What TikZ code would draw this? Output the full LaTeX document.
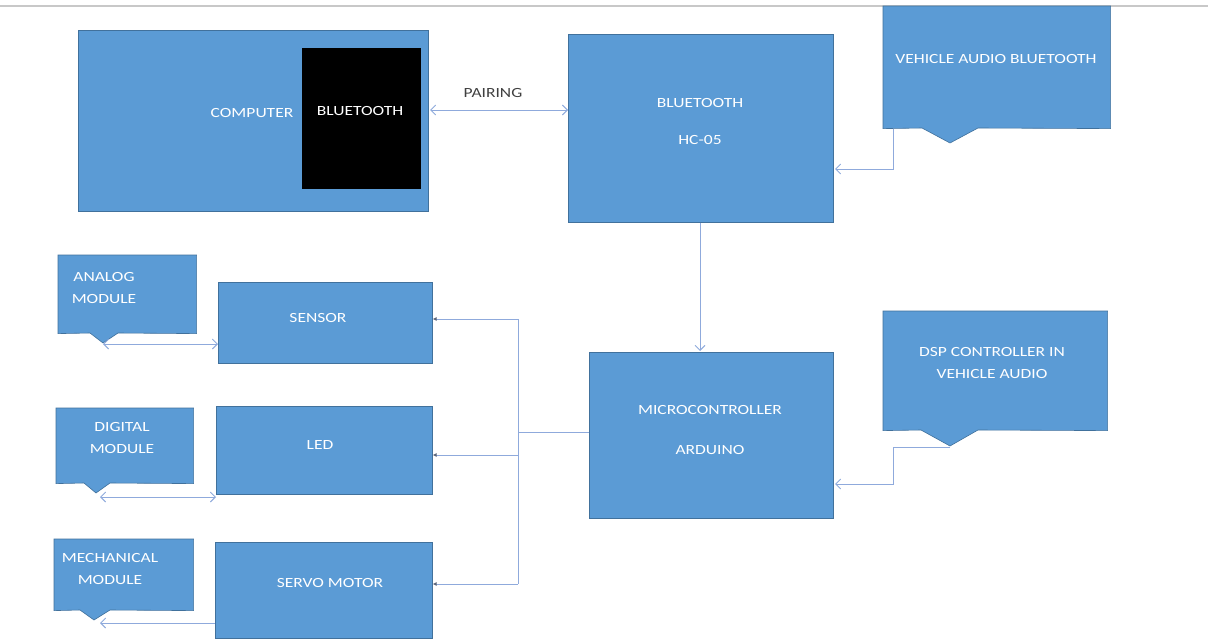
\documentclass[tikz,border=0pt]{standalone}
\usepackage{fontspec}
\setmainfont{Carlito}[FakeStretch=1.25]
\usetikzlibrary{arrows.meta,calc}
\definecolor{boxblue}{RGB}{91,155,213}
\definecolor{boxedge}{RGB}{65,113,156}
\definecolor{linec}{RGB}{143,170,220}
\definecolor{darkdot}{RGB}{90,100,120}
\definecolor{topline}{RGB}{200,200,200}
\tikzset{
  blk/.style={draw=boxedge, fill=boxblue, line width=0.6pt, inner sep=0pt, anchor=north west},
  cshape/.style={draw=boxedge, fill=boxblue, line width=0.6pt},
  lbl/.style={text=white, font=\fontsize{14}{22}\selectfont, align=center, inner sep=1pt},
  conn/.style={draw=linec, line width=0.9pt},
  barb/.style={arrows={-{Straight Barb[length=5pt,width=10pt]}}},
  dbarb/.style={arrows={{Straight Barb[length=5pt,width=10pt]}-{Straight Barb[length=5pt,width=10pt]}}},
  dotarr/.style={arrows={-{Latex[length=4pt,width=4pt,color=darkdot]}}},
}
\begin{document}
\begin{tikzpicture}[x=1pt,y=-1pt]
\useasboundingbox (0,0) rectangle (1208,640);
\fill[white] (0,0) rectangle (1208,640);
% top rule
\draw[topline, line width=1.5pt] (0,6) coordinate (tl) -- (1208,6) coordinate (tr);

% computer
\node[blk, minimum width=350, minimum height=181] (comp) at (78,30) {};
\node[draw=black, fill=black, inner sep=0pt, anchor=north west, minimum width=118, minimum height=140] (btc) at (302,48) {};
\node[lbl] (compt) at (252,113) {COMPUTER};
\node[lbl] (btct) at (360,111) {BLUETOOTH};

% HC-05
\node[blk, minimum width=265, minimum height=188] (hc) at (568,34) {};
\node[lbl] (hct1) at (700,103) {BLUETOOTH};
\node[lbl] (hct2) at (700,140) {HC-05};

% pairing
\node[text=black!75, font=\fontsize{14}{18}\selectfont] (pair) at (493,93) {PAIRING};
\coordinate (pl) at (430,110);
\coordinate (pr) at (568,110);
\draw[conn, dbarb] (pl) -- (pr);

% vehicle audio bluetooth callout
\node[blk, draw=none, fill=none, minimum width=227, minimum height=122] (vab) at (883,6) {};
\path[cshape] (vab.north west) -- (vab.north east) -- (vab.south east) -- (978,128) -- (950,143) -- (922,128) -- (vab.south west) -- cycle;
\node[lbl] (vabt) at (996,59) {VEHICLE AUDIO BLUETOOTH};
\coordinate (v1) at (893,129);
\coordinate (v2) at (893,169);
\coordinate (v3) at (835,169);
\draw[conn, barb] (v1) -- (v2) -- (v3);

% microcontroller
\node[blk, minimum width=244, minimum height=166] (mc) at (589,352) {};
\node[lbl] (mct1) at (710,410) {MICROCONTROLLER};
\node[lbl] (mct2) at (710,450) {ARDUINO};
\draw[conn, barb] (hc.south -| 700,0) -- (700,351);

% DSP callout
\node[blk, draw=none, fill=none, minimum width=224, minimum height=119] (dsp) at (883,311) {};
\path[cshape] (dsp.north west) -- (dsp.north east) -- (dsp.south east) -- (978,430) -- (950,446) -- (921,430) -- (dsp.south west) -- cycle;
\node[lbl] (dspt) at (992,363) {DSP CONTROLLER IN\\VEHICLE AUDIO};
\coordinate (d1) at (950,447);
\coordinate (d2) at (893,447);
\coordinate (d3) at (893,484);
\coordinate (d4) at (835,484);
\draw[conn, barb] (d1) -- (d2) -- (d3) -- (d4);

% left boxes
\node[blk, minimum width=214, minimum height=81] (sen) at (218,282) {};
\node[lbl] (sent) at (318,318) {SENSOR};
\node[blk, minimum width=216, minimum height=88] (led) at (216,406) {};
\node[lbl] (ledt) at (320,445) {LED};
\node[blk, minimum width=217, minimum height=96] (servo) at (215,542) {};
\node[lbl] (servot) at (330,583) {SERVO MOTOR};

% module callouts
\node[blk, draw=none, fill=none, minimum width=138, minimum height=78] (ana) at (58,255) {};
\path[cshape] (ana.north west) -- (ana.north east) -- (ana.south east) -- (118,333) -- (103,343) -- (90,333) -- (ana.south west) -- cycle;
\node[lbl] (anat) at (104,288) {ANALOG\\MODULE};

\node[blk, draw=none, fill=none, minimum width=137, minimum height=75] (dig) at (56,408) {};
\path[cshape] (dig.north west) -- (dig.north east) -- (dig.south east) -- (110,483) -- (96,493) -- (84,483) -- (dig.south west) -- cycle;
\node[lbl] (digt) at (122,438) {DIGITAL\\MODULE};

\node[blk, draw=none, fill=none, minimum width=139, minimum height=71] (mech) at (54,539) {};
\path[cshape] (mech.north west) -- (mech.north east) -- (mech.south east) -- (110,610) -- (94,620) -- (80,610) -- (mech.south west) -- cycle;
\node[lbl] (mecht) at (110,569) {MECHANICAL\\MODULE};

% module connectors
\coordinate (a1) at (103,344);
\coordinate (g1) at (100,497);
\coordinate (m1) at (100,623);
\draw[conn, dbarb] (a1) -- (sen.west |- a1);
\draw[conn, dbarb] (g1) -- (led.west |- g1);
\draw[conn, barb] (servo.west |- m1) -- (m1);

% bus
\coordinate (b0) at (518,432);
\coordinate (bt) at (518,319);
\coordinate (bm) at (518,455);
\coordinate (bb) at (518,584);
\draw[conn] (mc.west |- b0) -- (b0);
\draw[conn] (bt) -- (bb);
\draw[conn, dotarr] (bt) -- (sen.east |- bt);
\draw[conn, dotarr] (bm) -- (led.east |- bm);
\draw[conn, dotarr] (bb) -- (servo.east |- bb);
\end{tikzpicture}
\end{document}
